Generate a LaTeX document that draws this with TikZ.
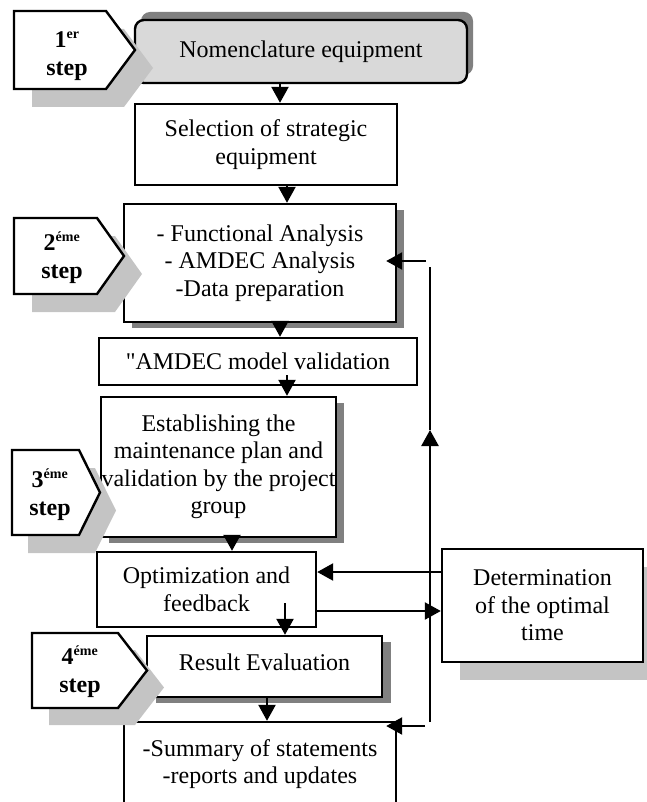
\documentclass[tikz,border=0pt]{standalone}
\usepackage{fontspec}
\setmainfont{Liberation Serif}[Ligatures=TeXOff]
\usetikzlibrary{arrows.meta,shadows,calc}
\definecolor{shdark}{HTML}{808080}
\definecolor{shlight}{HTML}{C4C4C4}
\definecolor{nomfill}{HTML}{D9D9D9}
\begin{document}
\begin{tikzpicture}[x=1pt,y=-1pt,
  box/.style={draw, line width=2.4pt, fill=white, inner sep=0pt, align=center,
    font=\fontsize{24}{27.5}\selectfont},
  arr/.style={line width=2.4pt, -{Triangle[length=16pt,width=17pt]}},
  ln/.style={line width=2.4pt},
  darksh/.style={drop shadow={shadow xshift=8pt, shadow yshift=-6pt, fill=shdark, opacity=1}},
  steptext/.style={font=\bfseries\fontsize{24}{28}\selectfont, align=center, inner sep=0pt},
  pent/.style={draw, line width=2.4pt, fill=white, line join=miter},
  pentsh/.style={fill=shlight}]

\useasboundingbox (0,0) rectangle (646,802);

% boxes
\node[box, fill=nomfill, rounded corners=9pt, minimum width=332pt, minimum height=63pt,
  drop shadow={shadow xshift=6pt, shadow yshift=8pt, fill=shdark, opacity=1}]
  (nomen) at (301,51.5) {Nomenclature equipment};
\node[box, minimum width=262pt, minimum height=81pt] (sel) at (266,144.5)
  {Selection of strategic\\equipment};
\node[box, darksh, minimum width=272pt, minimum height=118pt] (func) at (260,263)
  {- Functional Analysis\\- AMDEC Analysis\\-Data preparation};
\node[box, minimum width=318pt, minimum height=47pt] (valid) at (258,361.5)
  {"AMDEC model validation};
\node[box, darksh, minimum width=235pt, minimum height=140pt] (estab) at (218.5,467)
  {Establishing the\\maintenance plan and\\validation by the project\\group};
\node[box, minimum width=219pt, minimum height=75pt] (optim) at (206.5,589.5)
  {Optimization and\\feedback};
\node[box, minimum width=201pt, minimum height=113pt,
  drop shadow={shadow xshift=18pt, shadow yshift=-18pt, fill=shlight, opacity=1}]
  (determ) at (542.5,605.5) {Determination\\of the optimal\\time};
\node[box, drop shadow={shadow xshift=9pt, shadow yshift=-6pt, fill=shdark, opacity=1},
  minimum width=235pt, minimum height=61pt] (result) at (264.5,666.5)
  {\raisebox{8pt}{Result Evaluation}};
\node[box, minimum width=272pt, minimum height=84pt] (summary) at (260,764)
  {-Summary of statements\\-reports and updates};

% step pentagons: shadows
\path[pentsh, shift={(18,18)}] (14,11) -- (106,11) -- (135,50) -- (106,89) -- (14,89) -- cycle;
\path[pentsh, shift={(18,18)}] (14,218) -- (97,218) -- (124,256) -- (97,294) -- (14,294) -- cycle;
\path[pentsh, shift={(16,18)}] (12,450) -- (79,450) -- (100,492.5) -- (79,535) -- (12,535) -- cycle;
\path[pentsh, shift={(17,17)}] (32,633) -- (118,633) -- (147,670.5) -- (118,708) -- (32,708) -- cycle;
% step pentagons
\path[pent] (14,11) -- (106,11) -- (135,50) -- (106,89) -- (14,89) -- cycle;
\path[pent] (14,218) -- (97,218) -- (124,256) -- (97,294) -- (14,294) -- cycle;
\path[pent] (12,450) -- (79,450) -- (100,492.5) -- (79,535) -- (12,535) -- cycle;
\path[pent] (32,633) -- (118,633) -- (147,670.5) -- (118,708) -- (32,708) -- cycle;

\node[steptext] (s1) at (67,56) {1\textsuperscript{\fontsize{14}{14}\selectfont er}\\step};
\node[steptext] (s2) at (62,258) {2\textsuperscript{\fontsize{14}{14}\selectfont éme}\\step};
\node[steptext] (s3) at (50,495) {3\textsuperscript{\fontsize{14}{14}\selectfont éme}\\step};
\node[steptext] (s4) at (80,672) {4\textsuperscript{\fontsize{14}{14}\selectfont éme}\\step};

% connectors
\coordinate (c1) at (280,0);
\coordinate (c2) at (287,0);
\coordinate (c4) at (287,375);
\coordinate (c5) at (232,0);
\coordinate (c6) at (285,603);
\coordinate (c7) at (267,0);
\draw[arr] (nomen.south -| c1) -- (sel.north -| c1);
\draw[arr] (sel.south -| c2) -- (func.north -| c2);
\draw[arr] (func.south -| c1) -- (valid.north -| c1);
\draw[arr] (c4) -- (estab.north -| c4);
\draw[arr] (estab.south -| c5) -- (optim.north -| c5);
\draw[arr] (c6) -- (result.north -| c6);
\draw[arr] (result.south -| c7) -- (summary.north -| c7);

\coordinate (r1) at (0,572);
\coordinate (r2) at (0,611);
\draw[arr] (determ.west |- r1) -- (optim.east |- r1);
\draw[arr] (optim.east |- r2) -- (determ.west |- r2);

\coordinate (fbot) at (430,722);
\coordinate (fmid) at (430,430);
\coordinate (ftop) at (430,267);
\draw[arr] (fbot) -- (fmid);
\draw[ln] (fmid) -- (ftop);
\coordinate (ftopin) at (426,261);
\draw[arr] (ftopin) -- ($(func.east |- ftopin)+(-11,0)$);
\coordinate (fbotin) at (425,726);
\draw[arr] (fbotin) -- ($(summary.east |- fbotin)+(-11,0)$);
\end{tikzpicture}
\end{document}
